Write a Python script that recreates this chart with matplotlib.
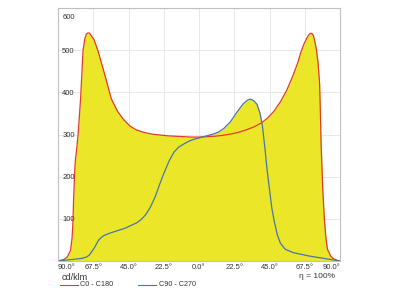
import numpy as np
import matplotlib
matplotlib.use("Agg")
import matplotlib.pyplot as plt
from matplotlib.lines import Line2D
from matplotlib.transforms import ScaledTranslation

plt.rcParams['font.family'] = ['Liberation Sans', 'DejaVu Sans']

# C0 - C180 (batwing)
c0_ang = [-90, -86, -84, -82, -81, -80.5, -80, -79.5, -79, -78, -77.3, -76.5, -75.5, -74.5, -74, -73, -72,
          -71, -70, -69, -67, -64.6, -60, -56, -52, -48, -44, -40, -35, -30, -25, -20, -15, -10, -5, 0,
          5, 10, 15, 20, 25, 30, 35, 40, 44, 48, 52, 56, 60, 63, 65, 67, 69,
          70, 71, 72, 73, 74, 75, 76, 77, 77.5, 78, 79, 80, 81, 82, 84, 86, 88, 90]
c0_val = [0, 4, 10, 25, 55, 90, 150, 200, 235, 268, 295, 335, 390, 465, 500, 525, 538,
          541, 541, 536, 525, 500, 440, 385, 355, 335, 320, 311, 305, 301, 299, 297, 296, 295, 294, 294,
          295, 296, 298, 301, 305, 311, 318, 328, 340, 356, 378, 405, 440, 470, 495, 515, 530,
          536, 540, 540, 535, 520, 500, 470, 420, 350, 270, 170, 100, 55, 28, 12, 5, 2, 0]

# C90 - C270
c90_ang = [-90, -85, -80, -75, -72, -70, -67, -64, -61, -57, -52, -47, -43, -40, -37, -34, -31,
           -28, -25, -22, -19, -16, -13, -10, -6, -3, 0, 4, 8, 12, 16, 20, 24, 28, 31, 33, 35,
           37, 39, 40.5, 42, 43.5, 45, 46.5, 48, 50, 52, 55, 60, 65, 70, 75, 80, 85, 90]
c90_val = [0, 2, 4, 6, 9, 14, 30, 50, 60, 66, 72, 78, 85, 90, 98, 110, 128,
           152, 183, 212, 238, 258, 270, 277, 285, 289, 292, 296, 300, 305, 315, 330, 352, 372, 382, 384, 380,
           372, 350, 320, 270, 215, 170, 125, 95, 62, 42, 28, 20, 16, 12, 9, 6, 3, 0]

xticks = [-90, -67.5, -45, -22.5, 0, 22.5, 45, 67.5, 90]
xlabels = ["90.0°", "67.5°", "45.0°", "22.5°", "0.0°", "22.5°", "45.0°", "67.5°", "90.0°"]
yticks = [100, 200, 300, 400, 500, 600]

yellow = "#ECE628"
red = "#E23A2C"
blue = "#4676AC"
gridc = "#E8E8E8"
txt = "#333333"

fig = plt.figure(figsize=(4, 3), dpi=100)
ax = fig.add_axes([0.145, 0.13, 0.705, 0.843])

# grid drawn by hand so the tick labels can sit above the fill
for x in xticks:
    ax.axvline(x, color=gridc, lw=0.7, zorder=0)
for y in yticks:
    ax.axhline(y, color=gridc, lw=0.7, zorder=0)

ax.fill_between(c0_ang, 0, c0_val, color=yellow, lw=0, zorder=1)
ax.fill_between(c90_ang, 0, c90_val, color=yellow, lw=0, zorder=1)
ax.plot(c0_ang, c0_val, color=red, lw=0.9, zorder=2)
ax.plot(c90_ang, c90_val, color=blue, lw=0.9, zorder=2)

ax.set_xlim(-90, 90)
ax.set_ylim(0, 600)
ax.set_xticks(xticks)
ax.set_xticklabels(xlabels, fontsize=5.5, color=txt)
ax.set_yticks(yticks)
ax.set_yticklabels([str(v) for v in yticks], fontsize=5.5, color=txt)
ax.tick_params(axis="x", length=0, pad=2)
ax.tick_params(axis="y", length=0, pad=-3)
ax.yaxis.set_zorder(3)
for lbl in ax.get_yticklabels():
    lbl.set_ha("left")
top = ax.get_yticklabels()[-1]
top.set_transform(top.get_transform() + ScaledTranslation(0, -6 / 72, fig.dpi_scale_trans))
xl = ax.get_xticklabels()
xl[0].set_ha("left")
xl[-1].set_ha("right")

for s in ax.spines.values():
    s.set_color("#C0C0C0")
    s.set_linewidth(0.8)

fig.text(62 / 400, 1 - 277 / 300, "cd/klm", fontsize=6.5, color=txt, va="center", ha="left")
fig.text(335 / 400, 1 - 277 / 300, "η = 100%", fontsize=6, color=txt, va="center", ha="right")

ly = 1 - 285 / 300
fig.add_artist(Line2D([60 / 400, 78 / 400], [ly, ly], color=red, lw=0.8))
fig.text(80 / 400, ly, "C0 - C180", fontsize=5.2, color=txt, va="center", ha="left")
fig.add_artist(Line2D([138 / 400, 156 / 400], [ly, ly], color=blue, lw=0.8))
fig.text(159 / 400, ly, "C90 - C270", fontsize=5.2, color=txt, va="center", ha="left")

fig.savefig("out.png", dpi=100)
